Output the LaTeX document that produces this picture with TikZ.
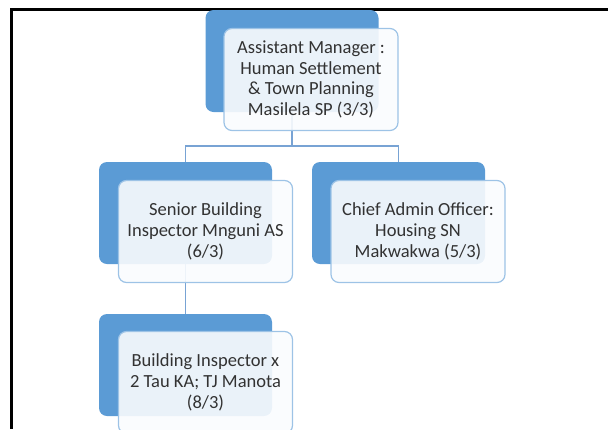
\documentclass[tikz,border=0pt]{standalone}
\usepackage{fontspec}
\setmainfont{Carlito}
\definecolor{backblue}{RGB}{91,155,213}
\definecolor{frontedge}{RGB}{157,195,230}
\definecolor{frontfill}{RGB}{250,252,254}
\definecolor{linkblue}{RGB}{120,163,212}
\definecolor{txt}{RGB}{50,50,50}
\begin{document}
\begin{tikzpicture}[x=1pt,y=-1pt,
  backbox/.style={draw=none,fill=backblue,rounded corners=8pt,minimum width=173pt,minimum height=102pt,inner sep=0pt,outer sep=0pt},
  frontbox/.style={draw=frontedge,line width=1.2pt,fill=frontfill,fill opacity=0.9,text opacity=1,rounded corners=8pt,minimum width=174pt,minimum height=102pt,inner sep=0pt,outer sep=0pt,text=txt,align=center,font=\fontsize{18.5}{20.7}\selectfont},
  link/.style={draw=linkblue,line width=1.1pt},
  frame/.style={draw=black,line width=3pt}]
\useasboundingbox (0,0) rectangle (608,429);
% frame
\draw[frame] (608,9) -- (11,9) -- (11,429);
% back boxes
\node[backbox] (b1) at (292,61) {};
\node[backbox] (b2) at (185.5,213) {};
\node[backbox] (b3) at (398.5,213) {};
\node[backbox] (b4) at (185.5,365) {};
% connectors
\draw[link] (b1.south) -- ++(0,34) -| (b2.north);
\draw[link] (b1.south) -- ++(0,34) -| (b3.north);
\draw[link] (b2.south) -- (b4.north);
% front boxes
\node[frontbox] (f1) at (311,79.5) {Assistant Manager :\\Human Settlement\\\& Town Planning\\Masilela SP (3/3)};
\node[frontbox] (f2) at (205.5,231.5) {Senior Building\\Inspector Mnguni AS\\(6/3)};
\node[frontbox] (f3) at (418,231.5) {Chief Admin Officer:\\Housing SN\\Makwakwa (5/3)};
\node[frontbox] (f4) at (205.5,382.5) {Building Inspector x\\2 Tau KA; TJ Manota\\(8/3)};
\end{tikzpicture}
\end{document}
